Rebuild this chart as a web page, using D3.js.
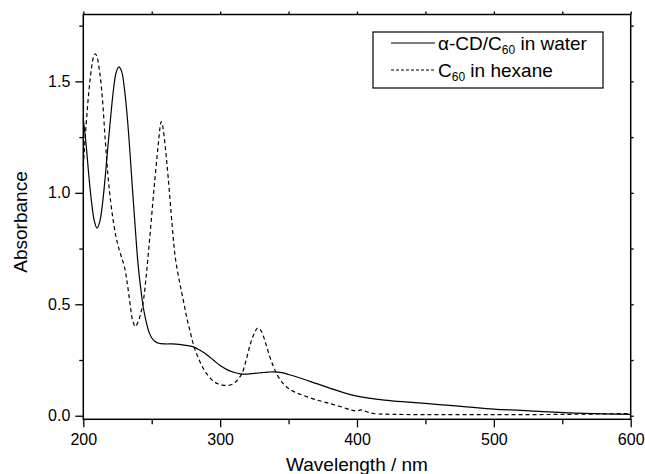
<!DOCTYPE html>
<html>
<head>
<meta charset="utf-8">
<script src="https://cdn.jsdelivr.net/npm/d3@7"></script>
<style>
  body { margin: 0; background: #fff; }
  svg { display: block; font-family: "Liberation Sans", Arial, sans-serif; }
</style>
</head>
<body>
<div class="container"></div>
<script>
// alpha-CD/C60 in water (solid)
const waveWater = [200, 202, 204, 206, 208, 210, 212, 214, 216, 218, 220, 222, 224, 226, 228, 230, 232, 234, 236, 238, 240, 242, 244, 246, 248, 250, 252, 255, 260, 265, 270, 275, 280, 285, 290, 295, 300, 305, 310, 315, 320, 325, 330, 335, 340, 345, 350, 360, 370, 380, 390, 400, 420, 440, 460, 480, 500, 520, 540, 560, 580, 600]
const absWater = [1.33, 1.22, 1.08, 0.96, 0.875, 0.842, 0.87, 0.95, 1.07, 1.21, 1.34, 1.46, 1.54, 1.565, 1.545, 1.47, 1.35, 1.19, 1.01, 0.84, 0.68, 0.57, 0.48, 0.42, 0.375, 0.35, 0.335, 0.325, 0.322, 0.322, 0.32, 0.316, 0.31, 0.295, 0.275, 0.25, 0.225, 0.207, 0.195, 0.188, 0.187, 0.19, 0.193, 0.196, 0.197, 0.193, 0.185, 0.166, 0.145, 0.124, 0.104, 0.088, 0.07, 0.06, 0.05, 0.04, 0.03, 0.024, 0.017, 0.012, 0.008, 0.006]

// C60 in hexane (dashed)
const waveHexane = [200, 202, 204, 206, 207.5, 208.8, 210, 212, 214, 216, 218, 220, 222, 224, 226, 228, 230, 232, 234, 236, 238, 240, 242, 244, 246, 248, 250, 252, 254, 255, 256, 257, 258, 260, 262, 265, 267, 270, 272, 274, 276, 278, 280, 282, 284, 287, 290, 295, 300, 306, 310, 313, 316, 319, 322, 325, 327.5, 330, 333, 336, 339, 342, 346, 350, 355, 360, 370, 380, 390, 396, 400, 403, 407, 412, 420, 450, 500, 550, 600]
const absHexane = [1.12, 1.3, 1.45, 1.56, 1.61, 1.624, 1.61, 1.54, 1.42, 1.24, 1.08, 0.96, 0.87, 0.8, 0.75, 0.71, 0.67, 0.6, 0.51, 0.43, 0.4, 0.42, 0.46, 0.52, 0.63, 0.76, 0.9, 1.04, 1.17, 1.23, 1.29, 1.32, 1.3, 1.2, 1.07, 0.85, 0.72, 0.61, 0.55, 0.49, 0.43, 0.38, 0.33, 0.29, 0.26, 0.22, 0.19, 0.155, 0.14, 0.136, 0.145, 0.163, 0.19, 0.25, 0.32, 0.37, 0.394, 0.38, 0.33, 0.27, 0.22, 0.18, 0.145, 0.122, 0.105, 0.093, 0.072, 0.055, 0.037, 0.025, 0.022, 0.026, 0.018, 0.01, 0.007, 0.005, 0.005, 0.006, 0.01]

const xMajor = [200, 300, 400, 500, 600]
const xMinor = [250, 350, 450, 550]
const yMajor = [0.0, 0.5, 1.0, 1.5]
const yMinor = [0.25, 0.75, 1.25, 1.75]

const width = 645
const height = 474
const plotLeft = 83.3, plotRight = 630.7, plotTop = 14.5, plotBottom = 419.3

const x = d3.scaleLinear().domain([200, 600]).range([plotLeft, plotRight])
const y = d3.scaleLinear().domain([-0.016, 1.8]).range([plotBottom, plotTop])

const svg = d3.select(".container")
    .append("svg")
    .attr("width", width)
    .attr("height", height)

// axes
const axisStyle = g => {
    g.select(".domain").remove()
    g.selectAll(".tick line").attr("stroke", "#000").attr("stroke-width", 1.3)
    g.selectAll(".tick text").attr("fill", "#000").attr("font-size", 16)
}

svg.append("g")
    .attr("transform", `translate(0,${plotBottom})`)
    .call(d3.axisBottom(x).tickValues(xMajor).tickSize(8).tickPadding(6).tickFormat(d3.format("d")))
    .call(axisStyle)
svg.append("g")
    .attr("transform", `translate(0,${plotBottom})`)
    .call(d3.axisBottom(x).tickValues(xMinor).tickSize(5).tickFormat(""))
    .call(axisStyle)
svg.append("g")
    .attr("transform", `translate(0,${plotTop})`)
    .call(d3.axisTop(x).tickValues(xMajor.concat(xMinor)).tickSize(3).tickFormat(""))
    .call(axisStyle)

svg.append("g")
    .attr("transform", `translate(${plotLeft},0)`)
    .call(d3.axisLeft(y).tickValues(yMajor).tickSize(8).tickPadding(5).tickFormat(d3.format(".1f")))
    .call(axisStyle)
svg.append("g")
    .attr("transform", `translate(${plotLeft},0)`)
    .call(d3.axisLeft(y).tickValues(yMinor).tickSize(4).tickFormat(""))
    .call(axisStyle)
svg.append("g")
    .attr("transform", `translate(${plotRight},0)`)
    .call(d3.axisRight(y).tickValues(yMajor.concat(yMinor)).tickSize(3).tickFormat(""))
    .call(axisStyle)

// frame
svg.append("rect")
    .attr("x", plotLeft).attr("y", plotTop)
    .attr("width", plotRight - plotLeft).attr("height", plotBottom - plotTop)
    .attr("fill", "none").attr("stroke", "#000").attr("stroke-width", 1.5)

// curves
const line = d3.line()
    .x(d => x(d[0]))
    .y(d => y(d[1]))
    .curve(d3.curveCatmullRom.alpha(0.5))

svg.append("path")
    .datum(waveWater.map((w, i) => [w, absWater[i]]))
    .attr("d", line)
    .attr("fill", "none").attr("stroke", "#000").attr("stroke-width", 1.2)

svg.append("path")
    .datum(waveHexane.map((w, i) => [w, absHexane[i]]))
    .attr("d", line)
    .attr("fill", "none").attr("stroke", "#000").attr("stroke-width", 1.2)
    .attr("stroke-dasharray", "4,3")

// axis titles
svg.append("text")
    .attr("x", (plotLeft + plotRight) / 2).attr("y", 471)
    .attr("text-anchor", "middle").attr("font-size", 19)
    .text("Wavelength / nm")

svg.append("text")
    .attr("transform", `translate(27,222) rotate(-90)`)
    .attr("text-anchor", "middle").attr("font-size", 19)
    .text("Absorbance")

// legend
const legend = svg.append("g")
legend.append("rect")
    .attr("x", 373).attr("y", 32).attr("width", 230).attr("height", 56)
    .attr("fill", "#fff").attr("stroke", "#000").attr("stroke-width", 1.2)

const legendRows = [
    { y: 43, dash: null, pre: "\u03b1-CD/C", post: " in water" },
    { y: 70, dash: "3,2", pre: "C", post: " in hexane" }
]
legendRows.forEach(r => {
    legend.append("line")
        .attr("x1", 391).attr("x2", 435).attr("y1", r.y).attr("y2", r.y)
        .attr("stroke", "#000").attr("stroke-width", 1)
        .attr("stroke-dasharray", r.dash)
    const t = legend.append("text")
        .attr("x", 438).attr("y", r.y + 7).attr("font-size", 19)
    t.append("tspan").text(r.pre)
    t.append("tspan").attr("font-size", 12).attr("dy", 4).text("60")
    t.append("tspan").attr("dy", -4).text(r.post)
})
</script>
</body>
</html>
